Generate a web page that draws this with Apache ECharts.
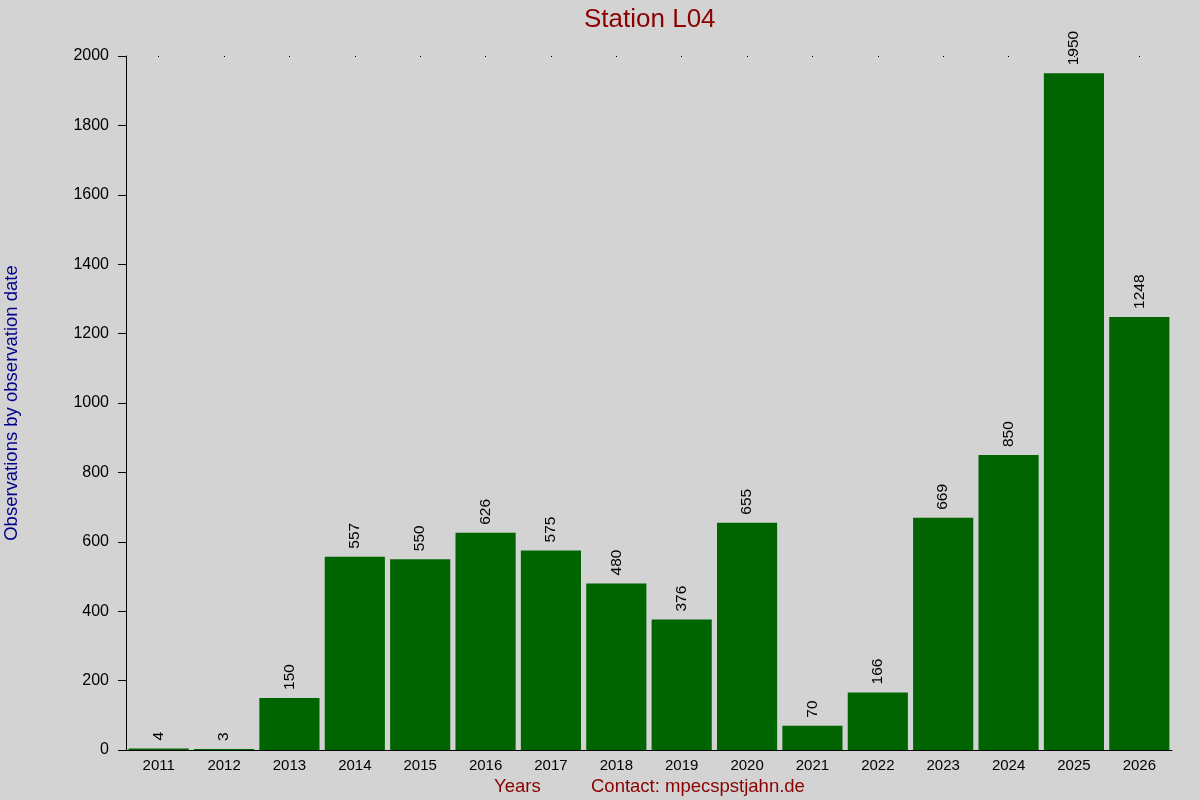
<!DOCTYPE html>
<html>
<head>
<meta charset="utf-8">
<script src="https://cdn.jsdelivr.net/npm/echarts@6/dist/echarts.min.js"></script>
<style>
  html, body { margin: 0; padding: 0; background: #d3d3d3; }
  #chart { width: 1200px; height: 800px; }
</style>
</head>
<body>
<div id="chart"></div>
<script>
const years = ['2011', '2012', '2013', '2014', '2015', '2016', '2017', '2018',
  '2019', '2020', '2021', '2022', '2023', '2024', '2025', '2026']
const counts = [4, 3, 150, 557, 550, 626, 575, 480, 376, 655, 70, 166, 669, 850, 1950, 1248]
const yTicks = [0, 200, 400, 600, 800, 1000, 1200, 1400, 1600, 1800, 2000]

const font = 'Liberation Sans, Arial, sans-serif'
const chart = echarts.init(document.getElementById('chart'))

chart.setOption({
  backgroundColor: '#d3d3d3',
  animation: false,
  title: {
    text: 'Station L04',
    left: 579,
    top: 2,
    textStyle: { color: '#8b0000', fontSize: 26, fontWeight: 'normal', fontFamily: font }
  },
  grid: { left: 126, right: 28, top: 56, bottom: 50, outerBoundsMode: 'none', containLabel: false },
  xAxis: [{
    type: 'category',
    data: years,
    axisLine: { show: true, lineStyle: { color: '#000', width: 1 } },
    axisTick: { show: false },
    axisLabel: { color: '#000', fontSize: 15, fontFamily: font, margin: 8 }
  }, {
    type: 'category',
    position: 'top',
    data: years,
    axisLine: { show: false },
    axisTick: { show: true, alignWithLabel: true, length: 1, inside: true, lineStyle: { color: '#000' } },
    axisLabel: { show: false }
  }],
  yAxis: {
    type: 'value',
    min: yTicks[0],
    max: yTicks[yTicks.length - 1],
    interval: 200,
    name: 'Observations by observation date',
    nameLocation: 'middle',
    nameGap: 105,
    nameTextStyle: { color: '#00008b', fontSize: 18.5, fontFamily: font },
    axisLine: { show: true, lineStyle: { color: '#000', width: 1 } },
    axisTick: { show: true, length: 8, lineStyle: { color: '#000' } },
    axisLabel: { color: '#000', fontSize: 16, fontFamily: font, margin: 17, formatter: v => String(v) },
    splitLine: { show: false }
  },
  series: [{
    type: 'bar',
    data: counts,
    barCategoryGap: '8%',
    itemStyle: { color: '#006400' },
    label: {
      show: true,
      position: 'top',
      rotate: 90,
      align: 'left',
      verticalAlign: 'middle',
      distance: 8,
      color: '#000',
      fontSize: 15.5,
      fontFamily: font
    }
  }],
  graphic: [{
    type: 'text',
    left: 494,
    top: 777,
    style: { text: 'Years', fill: '#8b0000', fontSize: 18.5, fontFamily: font }
  }, {
    type: 'text',
    left: 591,
    top: 777,
    style: { text: 'Contact: mpecspstjahn.de', fill: '#8b0000', fontSize: 18.5, fontFamily: font }
  }]
})
</script>
</body>
</html>
